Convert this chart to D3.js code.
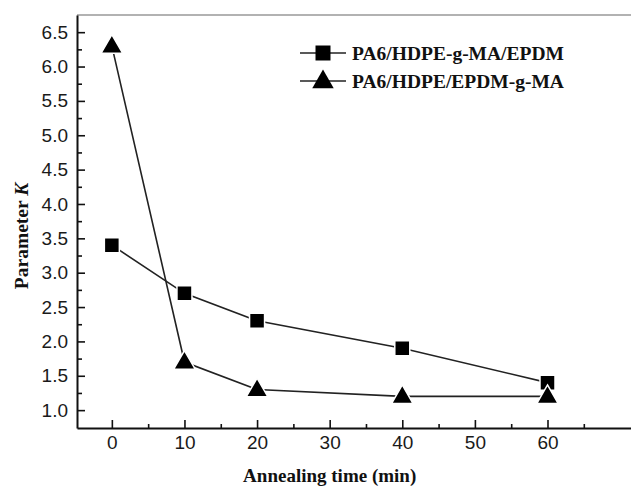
<!DOCTYPE html>
<html>
<head>
<meta charset="utf-8">
<script src="https://cdn.jsdelivr.net/npm/d3@7"></script>
<style>
  body { margin: 0; background: #fff; }
  svg { display: block; }
</style>
</head>
<body>
<div id="chart"></div>
<script>
(function(d3) {
  'use strict';
  // data
  var times = [0, 10, 20, 40, 60];
  var kGraftHDPE = [3.4, 2.7, 2.3, 1.9, 1.4];   // PA6/HDPE-g-MA/EPDM
  var kGraftEPDM = [6.3, 1.7, 1.3, 1.2, 1.2];   // PA6/HDPE/EPDM-g-MA
  var seriesNames = ['PA6/HDPE-g-MA/EPDM', 'PA6/HDPE/EPDM-g-MA'];
  var yTicks = [1.0, 1.5, 2.0, 2.5, 3.0, 3.5, 4.0, 4.5, 5.0, 5.5, 6.0, 6.5];
  var xTicks = [0, 10, 20, 30, 40, 50, 60];

  var W = 631, H = 491;
  var margin = {top: 15, right: 0, bottom: 63, left: 77};
  var width = W - margin.left - margin.right;
  var height = H - margin.top - margin.bottom;
  var ink = '#111';
  var serif = '"Liberation Serif", "Times New Roman", serif';

  var x = d3.scaleLinear().domain([-4.8, 71.5]).range([0, width]);
  var y = d3.scaleLinear().domain([0.74, 6.75]).range([height, 0]);

  var svg = d3.select('#chart').append('svg')
    .attr('width', W)
    .attr('height', H);

  var g = svg.append('g')
    .attr('transform', 'translate(' + margin.left + ',' + margin.top + ')');

  // top frame line (light grey in the original)
  g.append('line')
    .attr('x1', 0).attr('x2', width)
    .attr('y1', 0).attr('y2', 0)
    .style('stroke', '#999').style('stroke-width', 1.5);

  // minor ticks
  var xMinor = d3.range(5, 70, 10);
  var yMinor = d3.range(1.25, 6.6, 0.5);

  var xAxis = d3.axisBottom(x).tickValues(xTicks).tickFormat(d3.format('d'))
    .tickSizeInner(-8).tickSizeOuter(0).tickPadding(8);
  g.append('g').attr('transform', 'translate(0,' + height + ')').call(xAxis);
  g.append('g').attr('transform', 'translate(0,' + height + ')')
    .call(d3.axisBottom(x).tickValues(xMinor).tickFormat('').tickSizeInner(-4).tickSizeOuter(0))
    .select('.domain').remove();

  var yAxis = d3.axisLeft(y).tickValues(yTicks).tickFormat(d3.format('.1f'))
    .tickSizeInner(-8).tickSizeOuter(0).tickPadding(9);
  g.append('g').call(yAxis);
  g.append('g')
    .call(d3.axisLeft(y).tickValues(yMinor).tickFormat('').tickSizeInner(-5).tickSizeOuter(0))
    .select('.domain').remove();

  g.selectAll('.domain').style('stroke', ink).style('stroke-width', 2);
  g.selectAll('.tick line').style('stroke', ink).style('stroke-width', 1.6);
  g.selectAll('.tick text')
    .style('font-family', '"Liberation Sans", Arial, sans-serif')
    .style('font-size', '19px')
    .style('fill', '#1a1a1a');

  // series
  var sqData = times.map(function(t, i) { return {t: t, k: kGraftHDPE[i]}; });
  var trData = times.map(function(t, i) { return {t: t, k: kGraftEPDM[i]}; });

  var line = d3.line()
    .x(function(d) { return x(d.t); })
    .y(function(d) { return y(d.k); });

  g.append('path').datum(sqData).attr('d', line)
    .style('fill', 'none').style('stroke', '#222').style('stroke-width', 1.6);
  g.append('path').datum(trData).attr('d', line)
    .style('fill', 'none').style('stroke', '#222').style('stroke-width', 1.6);

  var sq = d3.symbol().type(d3.symbolSquare).size(225);
  var tri = d3.symbol().type(d3.symbolTriangle).size(200);

  g.selectAll('.sq').data(sqData).enter().append('path')
    .attr('class', 'sq')
    .attr('d', sq)
    .attr('transform', function(d) { return 'translate(' + x(d.t) + ',' + y(d.k) + ')'; })
    .style('fill', '#000').style('stroke', '#fff').style('stroke-width', 1.5);
  g.selectAll('.tri').data(trData).enter().append('path')
    .attr('class', 'tri')
    .attr('d', tri)
    .attr('transform', function(d) { return 'translate(' + x(d.t) + ',' + (y(d.k) + 1) + ')'; })
    .style('fill', '#000').style('stroke', '#fff').style('stroke-width', 1.5);

  // legend
  var legend = svg.append('g').attr('transform', 'translate(300,53)');
  var symbols = [sq, tri];
  seriesNames.forEach(function(name, i) {
    var row = legend.append('g').attr('transform', 'translate(0,' + (i * 28) + ')');
    row.append('line').attr('x1', 0).attr('x2', 46).attr('y1', 0).attr('y2', 0)
      .style('stroke', '#222').style('stroke-width', 1.6);
    row.append('path').attr('d', symbols[i])
      .attr('transform', 'translate(23,' + (i ? 1 : 0) + ')')
      .style('fill', '#000');
    row.append('text').attr('x', 52).attr('y', 7)
      .text(name)
      .style('font-family', serif)
      .style('font-weight', 'bold')
      .style('font-size', '19.5px')
      .style('fill', '#111');
  });

  // axis titles
  svg.append('text')
    .attr('x', margin.left + x(30)).attr('y', 482)
    .attr('text-anchor', 'middle')
    .text('Annealing time (min)')
    .style('font-family', serif)
    .style('font-weight', 'bold')
    .style('font-size', '19px')
    .style('fill', '#111');

  var yt = svg.append('text')
    .attr('transform', 'translate(28,236) rotate(-90)')
    .attr('text-anchor', 'middle')
    .style('font-family', serif)
    .style('font-weight', 'bold')
    .style('font-size', '19.5px')
    .style('fill', '#111');
  yt.append('tspan').text('Parameter ');
  yt.append('tspan').style('font-style', 'italic').text('K');
})(window.d3);
</script>
</body>
</html>
